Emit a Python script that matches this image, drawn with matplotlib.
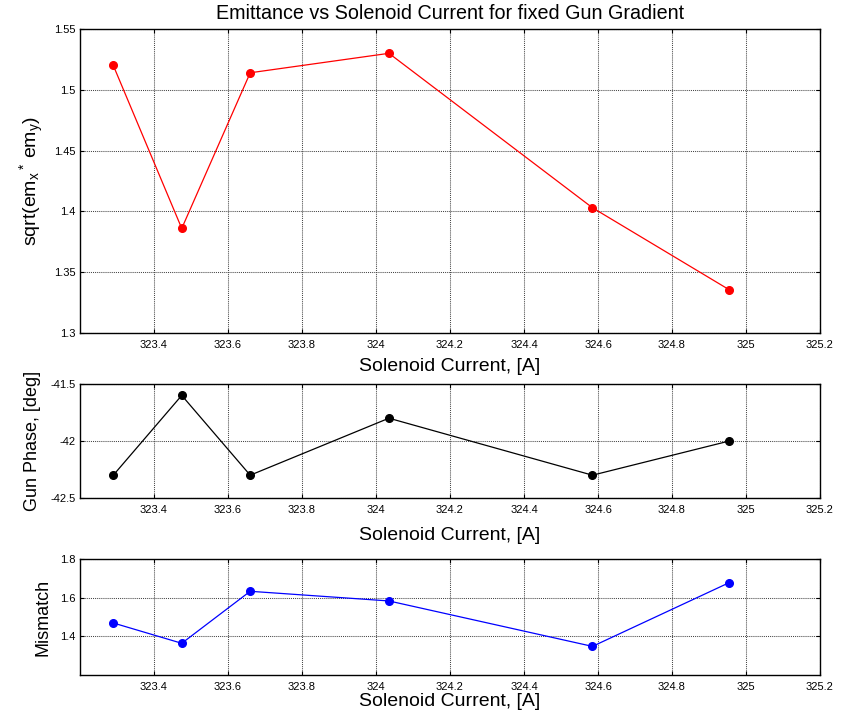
import matplotlib
matplotlib.use("Agg")
import matplotlib.pyplot as plt
from matplotlib.ticker import FuncFormatter

plt.rcParams['font.family'] = ['Liberation Sans', 'DejaVu Sans']
plt.rcParams['mathtext.default'] = 'regular'

# Solenoid current scan [A]
current = [323.29, 323.475, 323.66, 324.035, 324.585, 324.955]
# Emittance sqrt(em_x * em_y)
emittance = [1.520, 1.386, 1.514, 1.530, 1.403, 1.3355]
# Gun phase [deg]
gun_phase = [-42.3, -41.6, -42.3, -41.8, -42.3, -42.0]
# Mismatch parameter
mismatch = [1.469, 1.364, 1.633, 1.583, 1.348, 1.678]

x_ticks = [323.4, 323.6, 323.8, 324.0, 324.2, 324.4, 324.6, 324.8, 325.0, 325.2]
emit_ticks = [1.3, 1.35, 1.4, 1.45, 1.5, 1.55]
phase_ticks = [-42.5, -42.0, -41.5]
mism_ticks = [1.4, 1.6, 1.8]

fmt = FuncFormatter(lambda v, p: '%g' % round(v, 6))

fig = plt.figure(figsize=(8.45, 7.17), dpi=100)
left, width = 80 / 845, 740 / 845
H = 717.0
ax1 = fig.add_axes([left, 1 - 333 / H, width, (333 - 29) / H])
ax2 = fig.add_axes([left, 1 - 498 / H, width, (498 - 384) / H])
ax3 = fig.add_axes([left, 1 - 675 / H, width, (675 - 559) / H])

series = [
    (ax1, emittance, 'red', emit_ticks, (1.3, 1.55),
     r'sqrt(em$_{x}\,^{*}\;$em$_{y}$)', 6, 6, 14),
    (ax2, gun_phase, 'black', phase_ticks, (-42.5, -41.5),
     'Gun Phase, [deg]', 7, 9, 13),
    (ax3, mismatch, 'blue', mism_ticks, (1.2, 1.8), 'Mismatch', 6, 1, 13),
]

for ax, vals, col, yt, ylim, ylab, ypad, xpad, yfs in series:
    ax.plot(current, vals, '-o', color=col, lw=0.9, ms=5.5, mec=col, mfc=col)
    ax.set_xlim(323.2, 325.2)
    ax.set_ylim(*ylim)
    ax.set_xticks(x_ticks)
    ax.set_yticks(yt)
    ax.xaxis.set_major_formatter(fmt)
    ax.yaxis.set_major_formatter(fmt)
    ax.grid(True, color='0.28', linestyle=(0, (1, 1)), lw=0.75)
    ax.set_axisbelow(True)
    ax.tick_params(direction='in', top=True, right=True, length=3,
                   width=0.8, labelsize=8)
    ax.tick_params(axis='x', pad=5)
    ax.tick_params(axis='y', pad=3)
    for s in ax.spines.values():
        s.set_linewidth(1.0)
    ax.set_xlabel('Solenoid Current, [A]', fontsize=14, labelpad=xpad)
    ax.set_ylabel(ylab, fontsize=yfs, labelpad=ypad)

ax1.set_title('Emittance vs Solenoid Current for fixed Gun Gradient',
              fontsize=14.2, pad=7)

fig.savefig('out.png', dpi=100)
